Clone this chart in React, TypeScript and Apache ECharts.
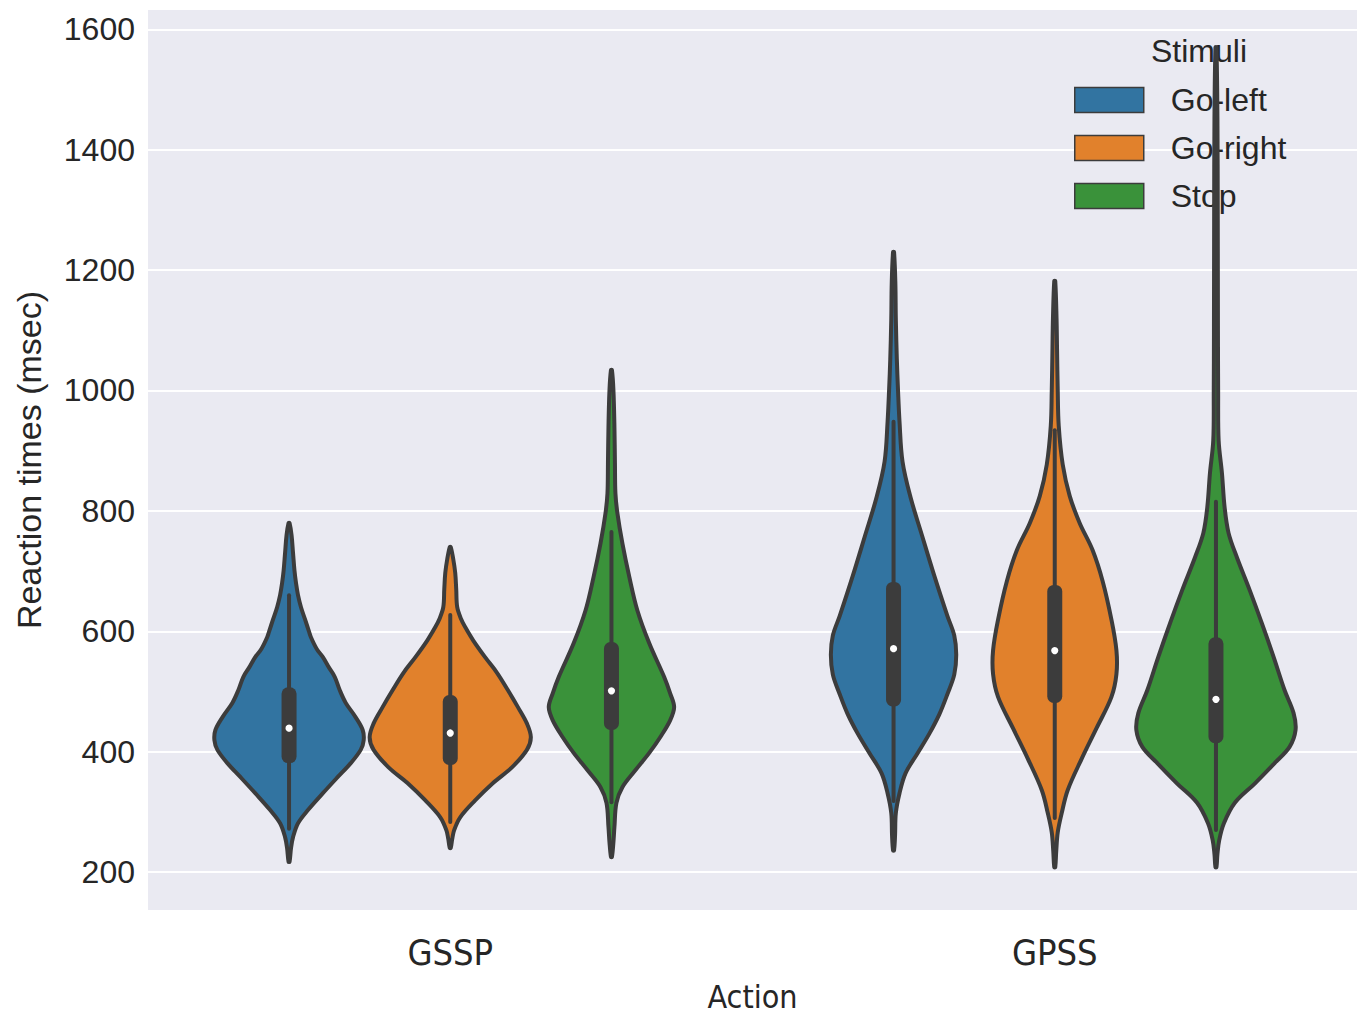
import React, { useEffect, useRef } from "react";
import * as echarts from "echarts";

// ---------- data ----------
const categories = ["GSSP", "GPSS"];
const stimuli = ["Go-left", "Go-right", "Stop"];
const colors = ["#3274a1", "#e1812c", "#3a923a"];
const yTicks = [200, 400, 600, 800, 1000, 1200, 1400, 1600];

// Kernel density profiles: [reaction time (msec), density (arbitrary units)]
const gsspGoLeftKde = [
  [780, 0.5], [760, 2.5], [730, 4], [700, 5.5], [680, 7], [660, 9], [640, 12], [620, 16],
  [600, 20], [590, 22], [570, 28], [557, 34], [540, 40], [524, 46], [502, 51], [481, 57],
  [457, 67], [436, 74], [419, 75], [403, 72], [381, 62], [358, 49], [331, 34], [303, 19],
  [281, 9], [258, 4], [240, 2], [217, 0.5],
];
const gsspGoRightKde = [
  [740, 0.5], [720, 3], [697, 5], [670, 6], [640, 7], [620, 11], [607, 15], [585, 23],
  [557, 35], [531, 47], [502, 58], [474, 68], [447, 77], [424, 81], [403, 77], [374, 62],
  [348, 43], [319, 25], [291, 10], [270, 4], [255, 2], [240, 0.5],
];
const gsspStopKde = [
  [1034, 0.5], [1000, 2], [939, 3], [880, 3.5], [829, 4], [796, 6], [746, 11], [690, 18],
  [635, 26], [580, 38], [524, 53], [497, 59], [474, 63], [452, 59], [424, 49], [398, 38],
  [369, 24], [341, 11], [315, 5], [275, 3], [250, 2], [225, 0.5],
];
const gpssGoLeftKde = [
  [1230, 0.5], [1180, 1.8], [1118, 2.3], [1052, 3.3], [1000, 4.5], [948, 6], [882, 9],
  [823, 17], [757, 29], [692, 41], [626, 54], [593, 61], [561, 63], [528, 61], [495, 54],
  [462, 46], [430, 36], [397, 24], [364, 12], [331, 6], [298, 2.3], [260, 1.5], [236, 0.5],
];
const gpssGoRightKde = [
  [1182, 0.5], [1120, 1.8], [1069, 2.3], [1000, 3], [941, 4], [877, 8], [825, 15],
  [780, 25], [735, 38], [684, 48], [619, 57], [568, 62], [529, 62], [491, 57], [439, 42],
  [388, 27], [336, 13], [298, 7], [266, 3], [235, 1.5], [208, 0.5],
];
const gpssStopKde = [
  [1570, 0.5], [1450, 1.5], [1300, 1.8], [1100, 2], [1000, 2.2], [917, 2.7], [863, 6],
  [806, 8.7], [763, 12.7], [723, 21], [668, 34], [614, 46], [557, 58], [502, 69], [464, 78],
  [436, 80], [408, 74], [381, 59], [347, 39], [315, 19], [281, 8], [253, 3.3], [230, 1.5],
  [208, 0.5],
];

// Box stats: [lower whisker, Q1, median, Q3, upper whisker]
const gsspGoLeftBox = [272, 381, 439, 507, 660];
const gsspGoRightBox = [283, 378, 431, 494, 627];
const gsspStopBox = [316, 436, 501, 582, 765];
const gpssGoLeftBox = [318, 475, 571, 682, 948];
const gpssGoRightBox = [290, 481, 568, 677, 934];
const gpssStopBox = [270, 414, 487, 590, 815];

// ---------- derived lookup tables ----------
const kdeByHue = [
  [gsspGoLeftKde, gpssGoLeftKde],
  [gsspGoRightKde, gpssGoRightKde],
  [gsspStopKde, gpssStopKde],
];
const boxByHue = [
  [gsspGoLeftBox, gpssGoLeftBox],
  [gsspGoRightBox, gpssGoRightBox],
  [gsspStopBox, gpssStopBox],
];
const maxDensity = Math.max(
  ...kdeByHue.flat().flatMap((p) => p.map((d) => d[1]))
);

const LINE = "#3c3c3c";
const TEXT = "#262626";
const SANS = "'Liberation Sans', Arial, sans-serif";
const NARROW = "'Liberation Sans Narrow', 'DejaVu Sans Condensed', 'Noto Sans', sans-serif";

function makeRenderItem(hue: number) {
  return (params: any, api: any) => {
    const cat = api.value(0);
    const profile = kdeByHue[hue][cat];
    const box = boxByHue[hue][cat];
    const band = api.size([1, 0])[0];
    const hueWidth = (band * 0.8) / 3;
    const cx = api.coord([cat, 0])[0] + (hue - 1) * hueWidth;
    const k = hueWidth / 2 / maxDensity;
    const left = profile.map(([v, d]: number[]) => [cx - d * k, api.coord([cat, v])[1]]);
    const right = profile
      .slice()
      .reverse()
      .map(([v, d]: number[]) => [cx + d * k, api.coord([cat, v])[1]]);
    const yw0 = api.coord([cat, box[0]])[1];
    const yq1 = api.coord([cat, box[1]])[1];
    const ymed = api.coord([cat, box[2]])[1];
    const yq3 = api.coord([cat, box[3]])[1];
    const yw1 = api.coord([cat, box[4]])[1];
    const bw = 15;
    return {
      type: "group",
      children: [
        {
          type: "polygon",
          shape: { points: left.concat(right), smooth: 0.35 },
          style: { fill: colors[hue], stroke: LINE, lineWidth: 4, lineJoin: "round" },
        },
        {
          type: "line",
          shape: { x1: cx, y1: yw1, x2: cx, y2: yw0 },
          style: { stroke: LINE, lineWidth: 4, lineCap: "round" },
        },
        {
          type: "rect",
          shape: { x: cx - bw / 2, y: yq3, width: bw, height: yq1 - yq3, r: bw / 2 - 1 },
          style: { fill: LINE },
        },
        {
          type: "circle",
          shape: { cx, cy: ymed, r: 3.6 },
          style: { fill: "#ffffff" },
        },
      ],
    };
  };
}

export default function App() {
  const ref = useRef<HTMLDivElement>(null);
  useEffect(() => {
    if (!ref.current) return;
    const chart = echarts.init(ref.current, null, { renderer: "svg" });
    const option: any = {
      animation: false,
      backgroundColor: "#ffffff",
      title: {
        text: "Stimuli",
        left: 1151,
        top: 35,
        padding: 0,
        textStyle: { fontFamily: SANS, fontSize: 32, fontWeight: "normal", color: TEXT },
      },
      legend: {
        orient: "vertical",
        left: 1074,
        top: 84,
        padding: 0,
        itemWidth: 69,
        itemHeight: 25,
        itemGap: 16,
        icon: "rect",
        data: stimuli.map((s, i) => ({
          name: s,
          itemStyle: { color: colors[i], borderColor: LINE, borderWidth: 1.5 },
        })),
        textStyle: {
          fontFamily: SANS,
          fontSize: 32,
          lineHeight: 32,
          color: TEXT,
          padding: [0, 0, 0, 22],
        },
      },
      grid: {
        left: 148,
        right: 2,
        top: 10,
        bottom: 108,
        containLabel: false,
        outerBoundsMode: "none",
        show: true,
        backgroundColor: "#eaeaf2",
        borderWidth: 0,
      },
      xAxis: {
        type: "category",
        data: categories,
        boundaryGap: true,
        axisLine: { show: false },
        axisTick: { show: false },
        splitLine: { show: false },
        axisLabel: { fontFamily: NARROW, fontSize: 36, color: TEXT, margin: 24 },
        name: "Action",
        nameLocation: "middle",
        nameGap: 72,
        nameTextStyle: { fontFamily: NARROW, fontSize: 32, lineHeight: 30, color: TEXT },
      },
      yAxis: {
        type: "value",
        min: 137,
        max: 1632,
        minInterval: 200,
        maxInterval: 200,
        axisLine: { show: false },
        axisTick: { show: false },
        axisLabel: {
          fontFamily: SANS,
          fontSize: 32,
          color: TEXT,
          margin: 13,
          showMinLabel: false,
          showMaxLabel: false,
          formatter: (v: number) => (yTicks.includes(v) ? String(v) : ""),
        },
        splitLine: {
          show: true,
          showMinLine: false,
          showMaxLine: false,
          lineStyle: { color: "#ffffff", width: 2 },
        },
        name: "Reaction times (msec)",
        nameLocation: "middle",
        nameGap: 102,
        nameTextStyle: { fontFamily: SANS, fontSize: 34, color: TEXT },
      },
      series: stimuli.map((s, hue) => ({
        name: s,
        type: "custom",
        z: 10,
        itemStyle: { color: colors[hue], borderColor: LINE, borderWidth: 1.5 },
        encode: { x: 0, y: [1, 2, 3, 4, 5] },
        data: categories.map((_, ci) => [ci, ...boxByHue[hue][ci]]),
        renderItem: makeRenderItem(hue),
      })),
    };
    chart.setOption(option);
    return () => chart.dispose();
  }, []);
  return (
    <div
      ref={ref}
      style={{ position: "fixed", left: 0, top: 0, width: 1359, height: 1018 }}
    />
  );
}
